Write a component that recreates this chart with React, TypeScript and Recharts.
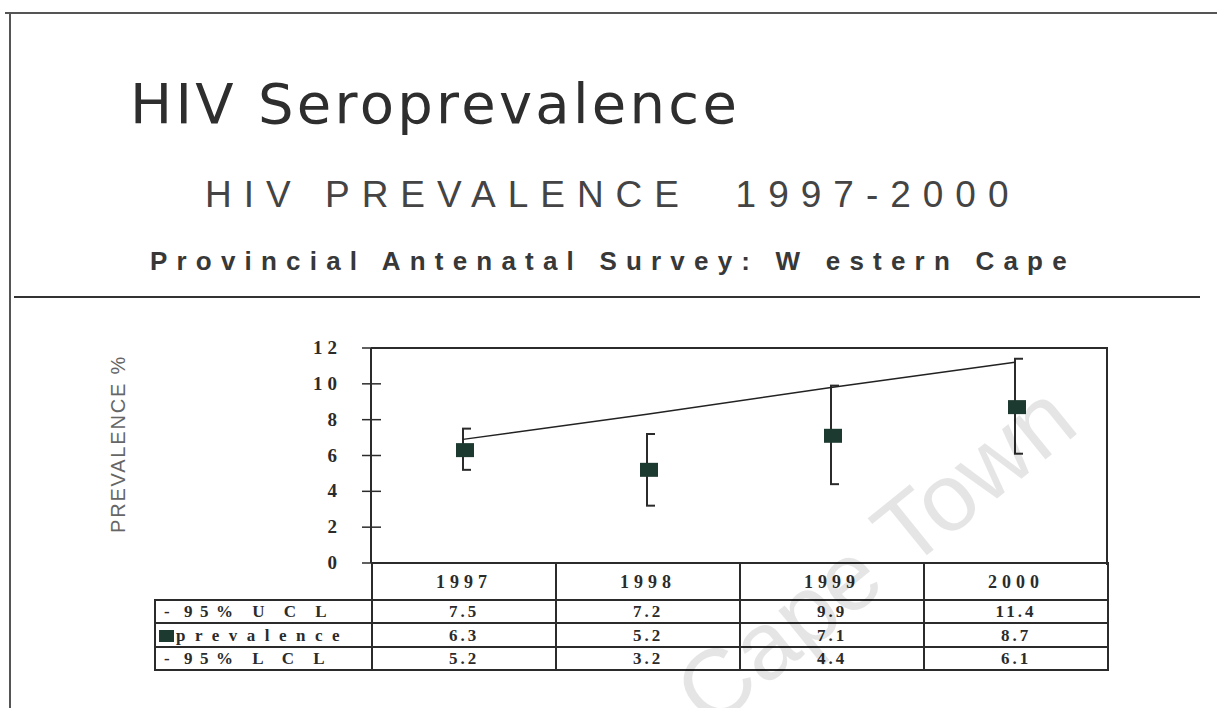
import { Bar, ComposedChart, Line, XAxis, YAxis } from "recharts";

const YEARS = ["1997", "1998", "1999", "2000"];
const UCL = [7.5, 7.2, 9.9, 11.4];
const PREVALENCE = [6.3, 5.2, 7.1, 8.7];
const LCL = [5.2, 3.2, 4.4, 6.1];
// straight trend line running up across the upper limits
const TREND = [6.9, 8.3, 9.8, 11.2];
const Y_TICKS = [0, 2, 4, 6, 8, 10, 12];

const INK = "#2b2b2b";
const MARK = "#1d3a30";
const SERIF = '"Liberation Serif", "Times New Roman", serif';
const SANS = '"Liberation Sans", Arial, sans-serif';

const data = YEARS.map((year, i) => ({
  year,
  prevalence: PREVALENCE[i],
  trend: TREND[i],
  range: [LCL[i], UCL[i]],
}));

const ROWS = [
  { label: "95% U C L", marker: "dash", values: UCL },
  { label: "prevalence", marker: "square", values: PREVALENCE },
  { label: "95% L C L", marker: "dash", values: LCL },
];

function RangeShape(props: any) {
  const { x, y, width, height } = props;
  const cx = x + width / 2;
  const top = Math.min(y, y + height);
  const bottom = Math.max(y, y + height);
  return (
    <g stroke={INK} strokeWidth={2}>
      <line x1={cx} x2={cx} y1={top} y2={bottom} />
      <line x1={cx - 1} x2={cx + 8} y1={top} y2={top} />
      <line x1={cx - 1} x2={cx + 8} y1={bottom} y2={bottom} />
    </g>
  );
}

function SquareDot(props: any) {
  const { cx, cy } = props;
  if (cx == null || cy == null) return null;
  return <rect x={cx - 7} y={cy - 7} width={18} height={14} fill={MARK} />;
}

function YTick(props: any) {
  const { x, y, payload } = props;
  return (
    <g>
      <line x1={x - 9} x2={x + 10} y1={y} y2={y} stroke={INK} strokeWidth={1.5} />
      <text
        x={x - 29}
        y={y}
        dy={6}
        textAnchor="end"
        fill={INK}
        style={{ fontFamily: SERIF, fontWeight: 700, fontSize: 19, letterSpacing: 5 }}
      >
        {payload.value}
      </text>
    </g>
  );
}

const cell = (extra: React.CSSProperties = {}): React.CSSProperties => ({
  border: `2px solid ${INK}`,
  padding: 0,
  textAlign: "center",
  verticalAlign: "middle",
  lineHeight: 1,
  ...extra,
});

export default function App() {
  return (
    <div
      style={{
        position: "fixed",
        left: 0,
        top: 0,
        width: 1217,
        height: 708,
        background: "#fff",
        overflow: "hidden",
        color: INK,
      }}
    >
      {/* slide frame */}
      <div style={{ position: "absolute", left: 5, top: 12, width: 1212, height: 2, background: "#555" }} />
      <div style={{ position: "absolute", left: 9, top: 12, width: 2, height: 696, background: "#555" }} />
      <div style={{ position: "absolute", left: 14, top: 296, width: 1186, height: 2, background: "#333" }} />

      <div
        style={{
          position: "absolute",
          left: 130,
          top: 76,
          fontFamily: '"DejaVu Sans", Verdana, sans-serif',
          fontSize: 56,
          lineHeight: "56px",
          letterSpacing: 3.3,
          color: "#2e2e2e",
          whiteSpace: "pre",
        }}
      >
        HIV Seroprevalence
      </div>
      <div
        style={{
          position: "absolute",
          left: 205,
          top: 176,
          fontFamily: SANS,
          fontSize: 37,
          lineHeight: "37px",
          letterSpacing: 12,
          color: "#444",
          whiteSpace: "pre",
        }}
      >
        HIV PREVALENCE  1997-2000
      </div>
      <div
        style={{
          position: "absolute",
          left: 150,
          top: 248,
          fontFamily: SANS,
          fontWeight: 700,
          fontSize: 26,
          lineHeight: "26px",
          letterSpacing: 9.2,
          color: "#383838",
          whiteSpace: "pre",
        }}
      >
        Provincial Antenatal Survey: W estern Cape
      </div>

      <div
        style={{
          position: "absolute",
          left: 18,
          top: 433,
          width: 200,
          textAlign: "center",
          transform: "rotate(-90deg)",
          fontFamily: SANS,
          fontSize: 20,
          lineHeight: "22px",
          letterSpacing: 1.8,
          color: "#666",
        }}
      >
        PREVALENCE %
      </div>

      <div style={{ position: "absolute", left: 300, top: 330 }}>
        <ComposedChart
          width={830}
          height={250}
          data={data}
          margin={{ top: 18, right: 23, bottom: 17, left: 21 }}
        >
          <XAxis dataKey="year" hide />
          <YAxis
            domain={[0, 12]}
            ticks={Y_TICKS}
            width={50}
            tickSize={0}
            tickMargin={0}
            tickLine={false}
            axisLine={{ stroke: INK, strokeWidth: 2 }}
            tick={<YTick />}
            interval={0}
          />
          <Bar dataKey="range" barSize={20} shape={<RangeShape />} isAnimationActive={false} />
          <Line
            dataKey="trend"
            stroke="#222"
            strokeWidth={1.5}
            dot={false}
            isAnimationActive={false}
          />
          <Line
            dataKey="prevalence"
            stroke="none"
            dot={(p: any) => <SquareDot key={p.index} {...p} />}
            isAnimationActive={false}
          />
        </ComposedChart>
      </div>
      {/* plot box top and right edges */}
      <div
        style={{
          position: "absolute",
          left: 371,
          top: 347,
          width: 735,
          height: 216,
          borderTop: `2px solid ${INK}`,
          borderRight: `2px solid ${INK}`,
        }}
      />

      <table
        style={{
          position: "absolute",
          left: 154,
          top: 562,
          width: 954,
          borderCollapse: "collapse",
          tableLayout: "fixed",
          fontFamily: SERIF,
          fontWeight: 700,
          color: INK,
        }}
      >
        <colgroup>
          <col style={{ width: 217 }} />
          {YEARS.map((y) => (
            <col key={y} style={{ width: 184 }} />
          ))}
        </colgroup>
        <tbody>
          <tr style={{ height: 37 }}>
            <td style={cell({ borderTop: "none", borderLeft: "none" })} />
            {YEARS.map((y) => (
              <td key={y} style={cell({ fontSize: 18, letterSpacing: 5 })}>
                {y}
              </td>
            ))}
          </tr>
          {ROWS.map((row, ri) => (
            <tr key={row.label} style={{ height: ri === 1 ? 24 : 23 }}>
              <td
                style={cell({
                  textAlign: "left",
                  paddingLeft: row.marker === "dash" ? 8 : 3,
                  fontSize: 17,
                  letterSpacing: row.marker === "dash" ? 7.5 : 9.5,
                  whiteSpace: "pre",
                })}
              >
                {row.marker === "dash" ? (
                  <span style={{ letterSpacing: 5 }}>- </span>
                ) : (
                  <span
                    style={{
                      display: "inline-block",
                      width: 15,
                      height: 12,
                      background: MARK,
                      marginRight: 2,
                      verticalAlign: -1,
                    }}
                  />
                )}
                {row.label}
              </td>
              {row.values.map((v, i) => (
                <td key={i} style={cell({ fontSize: 17, letterSpacing: 3 })}>
                  {v.toFixed(1)}
                </td>
              ))}
            </tr>
          ))}
        </tbody>
      </table>

      {/* faint library watermark */}
      <div
        style={{
          position: "absolute",
          left: 615,
          top: 505,
          width: 520,
          textAlign: "center",
          transform: "rotate(-39deg)",
          fontFamily: SANS,
          fontSize: 96,
          lineHeight: "100px",
          color: "rgba(0,0,0,0.1)",
          whiteSpace: "pre",
          pointerEvents: "none",
        }}
      >
        Cape Town
      </div>
    </div>
  );
}
